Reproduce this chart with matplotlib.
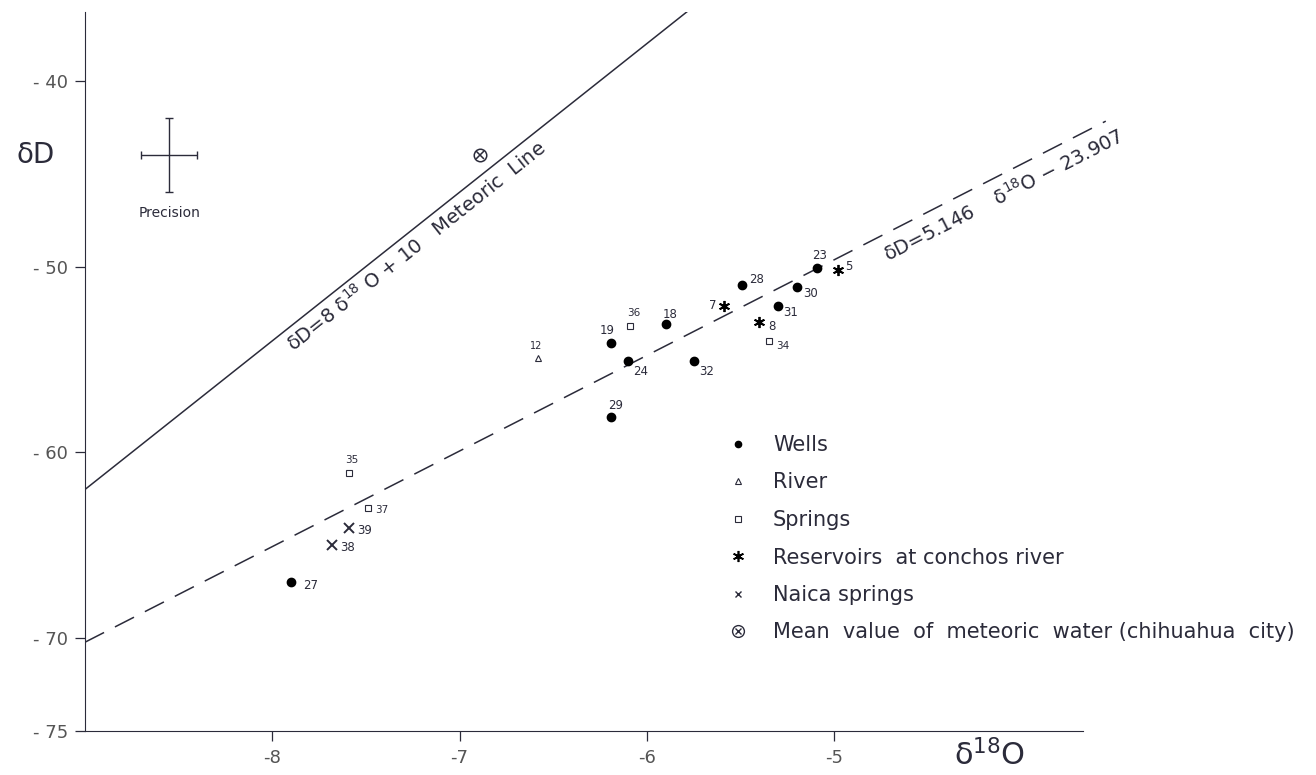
import numpy as np
import matplotlib.pyplot as plt
from matplotlib.lines import Line2D

plt.rcParams['font.family'] = ['DejaVu Sans']
plt.rcParams['axes.unicode_minus'] = False

# sample values (delta 18O, delta D)
wells_id = ['19', '24', '29', '18', '32', '28', '31', '30', '23', '27']
wells_o18 = [-6.19, -6.10, -6.19, -5.90, -5.75, -5.49, -5.30, -5.20, -5.09, -7.90]
wells_dD = [-54.1, -55.1, -58.1, -53.1, -55.1, -51.0, -52.1, -51.1, -50.1, -67.0]

river_id = ['12']
river_o18 = [-6.58]
river_dD = [-54.9]

springs_id = ['36', '34', '35', '37']
springs_o18 = [-6.09, -5.35, -7.59, -7.49]
springs_dD = [-53.2, -54.0, -61.1, -63.0]

reservoirs_id = ['7', '8', '5']
reservoirs_o18 = [-5.59, -5.40, -4.98]
reservoirs_dD = [-52.1, -53.0, -50.2]

naica_id = ['39', '38']
naica_o18 = [-7.59, -7.68]
naica_dD = [-64.1, -65.0]

mean_o18 = [-6.89]
mean_dD = [-44.0]

# lines
meteoric_slope, meteoric_icpt = 8.0, 10.0
local_slope, local_icpt = 5.146, -23.907

# analytical precision (half widths)
prec_o18 = 0.15
prec_dD = 2.0

x_ticks = [-8, -7, -6, -5]
y_ticks = [-40, -50, -60, -70, -75]

# label offsets in points (dx, dy)
label_offsets = {
    '19': (-3, 9), '24': (9, -7), '29': (3, 8), '18': (3, 7), '32': (9, -7),
    '28': (10, 4), '31': (9, -5), '30': (10, -5), '23': (1.5, 9), '27': (14, -2),
    '12': (-1.5, 8), '36': (3, 9), '34': (10, -4), '35': (2, 9), '37': (10, -1.5),
    '7': (-8, 0), '8': (9, -3), '5': (8, 3), '39': (11.5, -1.5), '38': (10.7, -1.5),
}

INK = '#2b2b3a'
TICKC = '#555555'


def label_points(ax, ids, xs, ys, size=8.5):
    for i, x, y in zip(ids, xs, ys):
        dx, dy = label_offsets[i]
        ax.annotate(i, (x, y), xytext=(dx, dy), textcoords='offset points',
                    ha='center', va='center', fontsize=size, color=INK)


def plot_isotopes():
    fig = plt.figure(figsize=(13.16, 7.75), dpi=100)
    ax = fig.add_axes([85 / 1316, 44 / 775, 1039.5 / 1316, 719 / 775])
    ax.set_xlim(-9, -3.45)
    ax.set_ylim(-75, -36.3)

    # meteoric water lines
    xm = np.array([-9.0, -3.4])
    ax.plot(xm, meteoric_slope * xm + meteoric_icpt, color=INK, lw=1.1)
    xl = np.array([-9.0, -3.55])
    ax.plot(xl, local_slope * xl + local_icpt, color=INK, lw=1.1,
            dashes=(14, 8))

    ax.text(-7.888, -54.59, 'δD=8 δ$^{18}$ O + 10   Meteoric  Line',
            rotation=np.degrees(np.arctan(meteoric_slope)),
            transform_rotates_text=True, rotation_mode='anchor',
            ha='left', va='baseline', fontsize=14, color=INK)
    ax.text(-4.711, -49.74, 'δD=5.146    δ$^{18}$O − 23.907',
            rotation=np.degrees(np.arctan(local_slope)),
            transform_rotates_text=True, rotation_mode='anchor',
            ha='left', va='baseline', fontsize=14, color=INK)

    # samples
    ax.plot(wells_o18, wells_dD, 'o', ms=6, color='black', ls='none')
    ax.plot(river_o18, river_dD, '^', ms=5, mfc='none', mec=INK, mew=0.8, ls='none')
    ax.plot(springs_o18, springs_dD, 's', ms=4.5, mfc='none', mec=INK, mew=0.8, ls='none')
    ax.plot(reservoirs_o18, reservoirs_dD, marker=(6, 2, 0), ms=8, mec='black', mew=1.3, ls='none')
    ax.plot(reservoirs_o18, reservoirs_dD, 'o', ms=3, color='black', ls='none')
    ax.plot(naica_o18, naica_dD, 'x', ms=7, mec=INK, mew=1.4, ls='none')
    ax.plot(mean_o18, mean_dD, 'o', ms=9, mfc='none', mec=INK, mew=1.1, ls='none')
    ax.plot(mean_o18, mean_dD, 'x', ms=5.5, mec=INK, mew=1.1, ls='none')

    label_points(ax, wells_id, wells_o18, wells_dD)
    label_points(ax, river_id, river_o18, river_dD, size=7)
    label_points(ax, springs_id, springs_o18, springs_dD, size=7.5)
    label_points(ax, reservoirs_id, reservoirs_o18, reservoirs_dD)
    label_points(ax, naica_id, naica_o18, naica_dD)

    # precision cross
    ax.errorbar([-8.55], [-44.0], xerr=prec_o18, yerr=prec_dD, color=INK,
                lw=1.0, capsize=3, capthick=1.0, ls='none')
    ax.text(-8.55, -47.1, 'Precision', ha='center', va='center',
            fontsize=10, color=INK)

    # legend
    handles = [
        Line2D([], [], marker='o', ms=4.5, color='black', ls='none'),
        Line2D([], [], marker='^', ms=5, mfc='none', mec=INK, mew=0.8, ls='none'),
        Line2D([], [], marker='s', ms=5, mfc='none', mec=INK, mew=0.8, ls='none'),
        (Line2D([], [], marker=(6, 2, 0), ms=8, mec='black', mew=1.2, ls='none'),
         Line2D([], [], marker='o', ms=2.5, color='black', ls='none')),
        Line2D([], [], marker='x', ms=5, mec=INK, mew=1.0, ls='none'),
        (Line2D([], [], marker='o', ms=8.5, mfc='none', mec=INK, mew=1.0, ls='none'),
         Line2D([], [], marker='x', ms=5, mec=INK, mew=1.0, ls='none')),
    ]
    names = ['Wells', 'River', 'Springs', 'Reservoirs  at conchos river',
             'Naica springs', 'Mean  value  of  meteoric  water (chihuahua  city)']
    ax.legend(handles, names, loc='upper left', frameon=False,
              bbox_to_anchor=(727.5 / 1316, (775 - 435) / 775),
              bbox_transform=fig.transFigure, borderpad=0, borderaxespad=0,
              handlelength=1.0, handletextpad=1.18, labelspacing=0.84,
              fontsize=15, labelcolor=INK)

    # axes styling
    for s in ['top', 'right']:
        ax.spines[s].set_visible(False)
    ax.spines['left'].set_color(INK)
    ax.spines['bottom'].set_color(INK)
    ax.spines['bottom'].set_bounds(-9, -3.67)
    ax.set_xticks(x_ticks)
    ax.set_yticks(y_ticks)
    ax.set_xticklabels([f'-{abs(v)}' for v in x_ticks])
    ax.set_yticklabels([f'- {abs(v)}' for v in y_ticks])
    ax.tick_params(direction='out', length=7, width=0.9, color=INK,
                   labelcolor=TICKC, labelsize=13)
    ax.tick_params(axis='y', pad=5)
    ax.tick_params(axis='x', pad=6)

    fig.text(36 / 1316, 1 - 155 / 775, 'δD', fontsize=20, color=INK,
             ha='center', va='center')
    fig.text(990 / 1316, 1 - 755 / 775, 'δ$^{18}$O', fontsize=22, color=INK,
             ha='center', va='center')

    fig.savefig('out.png', dpi=100)


def main():
    plot_isotopes()


if __name__ == "__main__":
    main()
